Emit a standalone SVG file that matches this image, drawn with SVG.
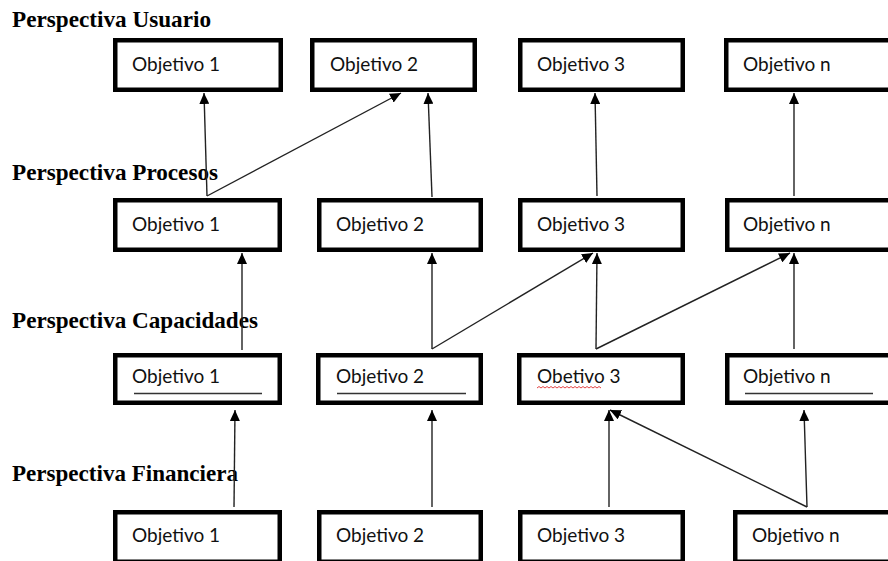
<svg xmlns="http://www.w3.org/2000/svg" width="888" height="561" viewBox="0 0 888 561">
<defs>
<marker id="ah" markerUnits="userSpaceOnUse" markerWidth="12" markerHeight="10" refX="11" refY="5" orient="auto">
<path d="M0,0 L11,5 L0,10 Z" fill="#000"/>
</marker>
<style>
.box{fill:#fff;stroke:#000;stroke-width:4.5}
.t{font-family:Lato,"Open Sans",sans-serif;font-size:19px;fill:#111}
.h{font-family:"Liberation Serif","Times New Roman",serif;font-weight:bold;font-size:23px;fill:#000}
.c{stroke:#222;stroke-width:1.4;fill:none;marker-end:url(#ah)}
.u{stroke:#333;stroke-width:1.3}
</style>
</defs>
<rect width="888" height="561" fill="#fff"/>
<g id="headings">
<text class="h" x="12" y="27" textLength="199" lengthAdjust="spacingAndGlyphs">Perspectiva Usuario</text>
<text class="h" x="12" y="180" textLength="206" lengthAdjust="spacingAndGlyphs">Perspectiva Procesos</text>
<text class="h" x="12" y="328" textLength="246" lengthAdjust="spacingAndGlyphs">Perspectiva Capacidades</text>
<text class="h" x="12" y="481" textLength="226" lengthAdjust="spacingAndGlyphs">Perspectiva Financiera</text>
</g>
<g id="u1"><rect class="box" x="115.25" y="40.25" width="165.5" height="49.5"/><text class="t" x="132" y="71">Objetivo 1</text></g>
<g id="u2"><rect class="box" x="312.25" y="40.25" width="162.5" height="49.5"/><text class="t" x="330" y="71">Objetivo 2</text></g>
<g id="u3"><rect class="box" x="520.25" y="40.25" width="162.5" height="49.5"/><text class="t" x="537" y="71">Objetivo 3</text></g>
<g id="u4"><rect class="box" x="726.25" y="40.25" width="165.5" height="49.5"/><text class="t" x="743" y="71">Objetivo n</text></g>
<g id="p1"><rect class="box" x="115.25" y="200.25" width="164.5" height="49.5"/><text class="t" x="132" y="231">Objetivo 1</text></g>
<g id="p2"><rect class="box" x="319.25" y="200.25" width="161.5" height="49.5"/><text class="t" x="336" y="231">Objetivo 2</text></g>
<g id="p3"><rect class="box" x="520.25" y="200.25" width="162.5" height="49.5"/><text class="t" x="537" y="231">Objetivo 3</text></g>
<g id="p4"><rect class="box" x="727.25" y="200.25" width="164.5" height="49.5"/><text class="t" x="743" y="231">Objetivo n</text></g>
<g id="c1"><rect class="box" x="115.25" y="355.25" width="164.5" height="47.5"/><text class="t" x="132" y="383">Objetivo 1</text><line class="u" x1="134" y1="393.5" x2="262" y2="393.5"/></g>
<g id="c2"><rect class="box" x="318.25" y="355.25" width="162.5" height="47.5"/><text class="t" x="336" y="383">Objetivo 2</text><line class="u" x1="337" y1="393.5" x2="466" y2="393.5"/></g>
<g id="c3"><rect class="box" x="519.25" y="355.25" width="163.5" height="47.5"/><text class="t" x="537" y="383">Obetivo 3</text><path d="M537,388 l2,-1.5 l2,1.5 l2,-1.5 l2,1.5 l2,-1.5 l2,1.5 l2,-1.5 l2,1.5 l2,-1.5 l2,1.5 l2,-1.5 l2,1.5 l2,-1.5 l2,1.5 l2,-1.5 l2,1.5 l2,-1.5 l2,1.5 l2,-1.5 l2,1.5 l2,-1.5 l2,1.5 l2,-1.5 l2,1.5 l2,-1.5 l2,1.5 l2,-1.5 l2,1.5 l2,-1.5 l2,1.5 l2,-1.5 l2,1.5" fill="none" stroke="#e03030" stroke-width="0.9"/></g>
<g id="c4"><rect class="box" x="727.25" y="355.25" width="164.5" height="47.5"/><text class="t" x="743" y="383">Objetivo n</text><line class="u" x1="745" y1="393.5" x2="873" y2="393.5"/></g>
<g id="f1"><rect class="box" x="115.25" y="512.25" width="164.5" height="49.5"/><text class="t" x="132" y="542">Objetivo 1</text></g>
<g id="f2"><rect class="box" x="319.25" y="512.25" width="161.5" height="49.5"/><text class="t" x="336" y="542">Objetivo 2</text></g>
<g id="f3"><rect class="box" x="520.25" y="512.25" width="162.5" height="49.5"/><text class="t" x="537" y="542">Objetivo 3</text></g>
<g id="f4"><rect class="box" x="735.25" y="512.25" width="156.5" height="49.5"/><text class="t" x="752" y="542">Objetivo n</text></g>
<g id="connectors">
<line class="c" x1="207" y1="196" x2="204" y2="93"/>
<line class="c" x1="207" y1="196" x2="401" y2="93"/>
<line class="c" x1="432" y1="197" x2="428" y2="93"/>
<line class="c" x1="597" y1="196" x2="595" y2="93"/>
<line class="c" x1="794" y1="196" x2="794" y2="93"/>
<line class="c" x1="242" y1="350" x2="242" y2="253"/>
<line class="c" x1="432" y1="349" x2="432" y2="253"/>
<line class="c" x1="432" y1="349" x2="593" y2="253"/>
<line class="c" x1="596" y1="349" x2="597" y2="253"/>
<line class="c" x1="596" y1="349" x2="790" y2="253"/>
<line class="c" x1="794" y1="349" x2="794" y2="253"/>
<line class="c" x1="234" y1="507" x2="235" y2="410"/>
<line class="c" x1="432" y1="507" x2="432" y2="410"/>
<line class="c" x1="609" y1="507" x2="609" y2="410"/>
<line class="c" x1="807" y1="507" x2="804" y2="410"/>
<line class="c" x1="807" y1="507" x2="610" y2="410"/>
</g>
</svg>
